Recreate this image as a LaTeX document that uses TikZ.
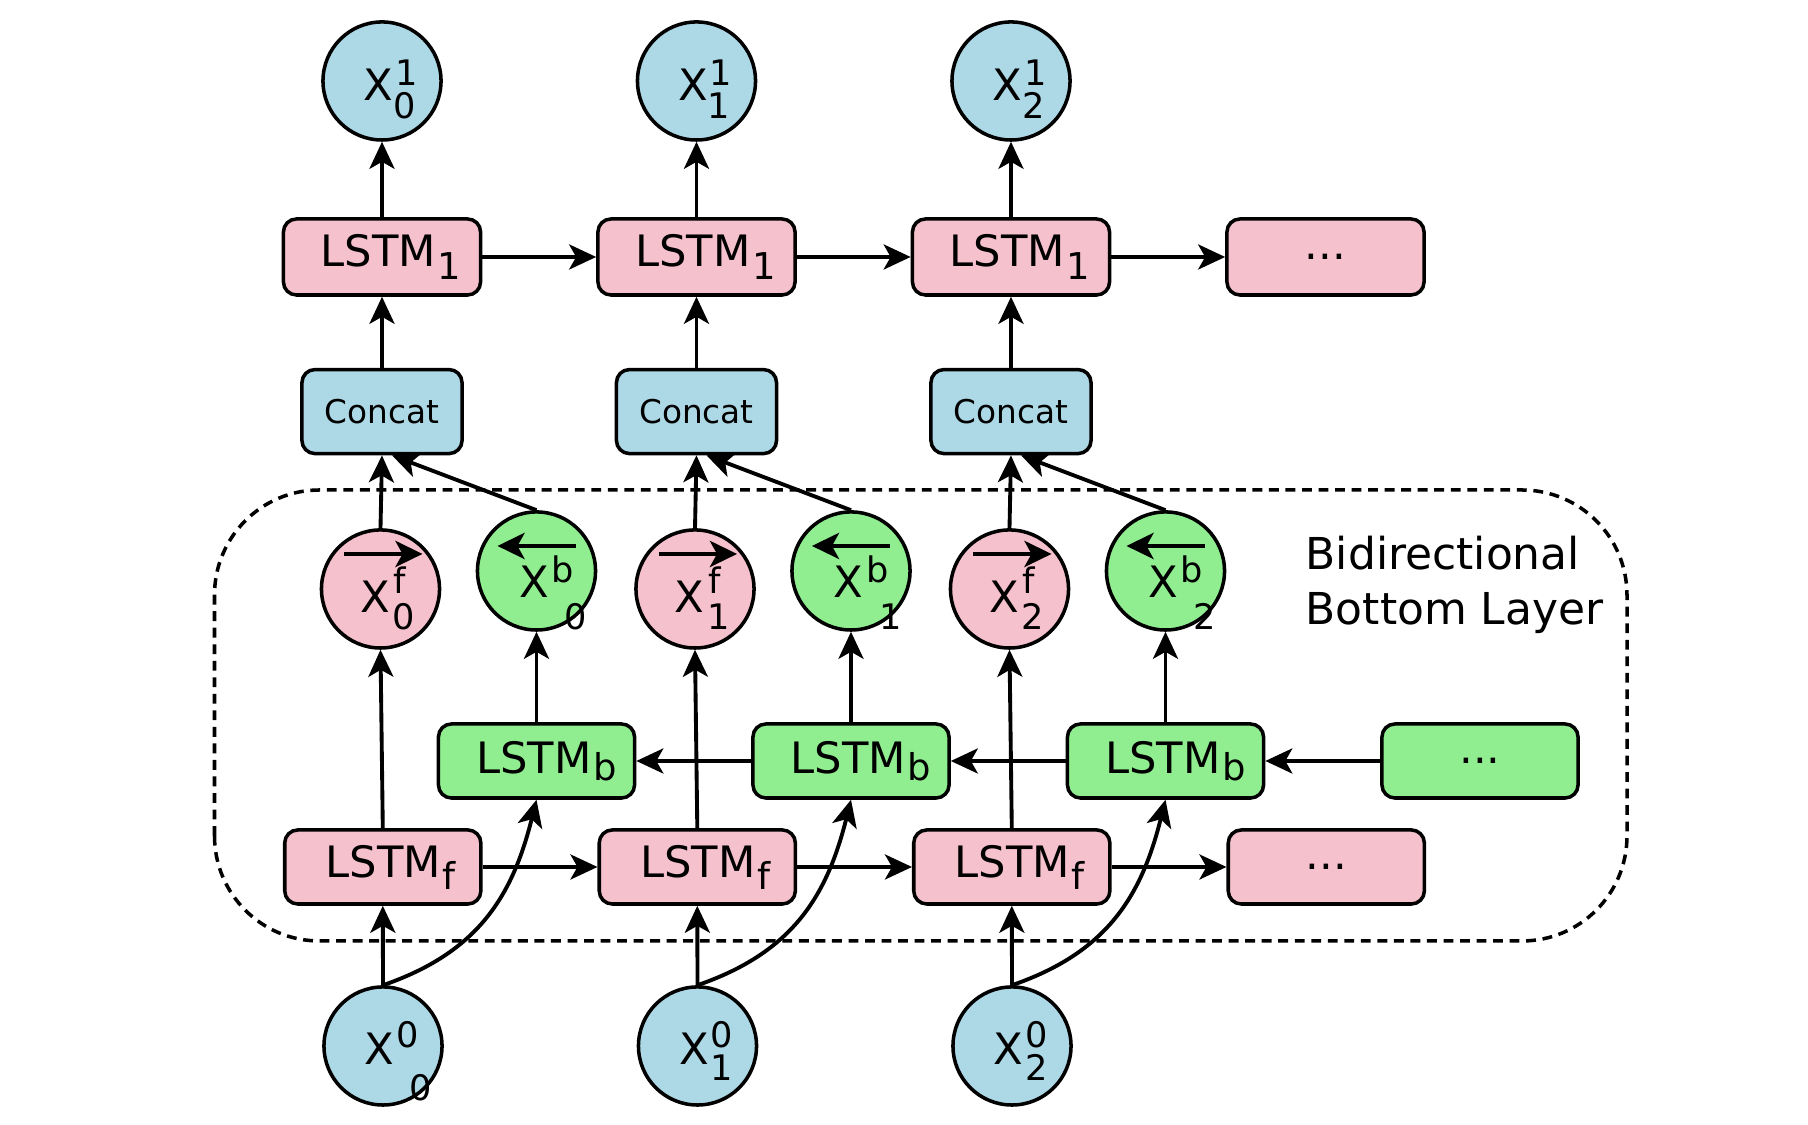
\documentclass[tikz,border=0pt]{standalone}
\usepackage{fontspec}
\setmainfont{DejaVu Sans}
\usetikzlibrary{arrows.meta}
\definecolor{cblue}{HTML}{ADD8E6}
\definecolor{cpink}{HTML}{F5C1CD}
\definecolor{cgreen}{HTML}{90EE90}
\newcommand\scr{\fontsize{10}{10}\selectfont}
\newcommand\mainf{\fontsize{12.3}{14}\selectfont}
% X with superscript and subscript: #1 sup kern, #2 sup raise, #3 sup, #4 sub kern, #5 sub raise, #6 sub
\newcommand\XL[6]{X\rlap{\kern#1\raisebox{#2}{\scr #3}}\kern#4\raisebox{#5}{\scr #6}}
\newcommand\LS[3]{\hspace*{#1}LSTM\kern0.02cm\raisebox{#2}{\fontsize{10.5}{10.5}\selectfont #3}}
\begin{document}
\begin{tikzpicture}[x=0.01cm,y=0.01cm,
  box/.style={draw, line width=1pt, rounded corners=0.13cm, minimum width=1.97cm,
    minimum height=0.76cm, inner sep=0pt, font=\mainf},
  lbox/.style={box, minimum width=1.96cm, minimum height=0.74cm},
  concat/.style={box, fill=cblue, minimum width=1.60cm, minimum height=0.84cm,
    font=\fontsize{9.3}{11}\selectfont},
  circ/.style={circle, draw, line width=1pt, minimum size=1.18cm, inner sep=0pt},
  lab/.style={anchor=base west, inner sep=0pt, font=\mainf},
  conn/.style={-{Stealth[length=0.27cm,width=0.25cm,inset=0.07cm]}, line width=1.1pt},
  over/.style={-{Stealth[length=0.27cm,width=0.26cm,inset=0.07cm]}, line width=1.3pt},
  region/.style={draw, line width=1pt, dash pattern=on 2.8pt off 1.9pt, rounded corners=1.05cm}
]
\useasboundingbox (0,0) rectangle (1808,1125);

% dashed region
\draw[region] (214.5,184) rectangle (1627,635);
\node[anchor=west, align=left, inner sep=0pt, font=\fontsize{12.5}{15.65}\selectfont]
  (bidir) at (1305,540) {Bidirectional\\Bottom Layer};

% top outputs
\node[circ, fill=cblue] (x10) at (382,1044) {};
\node[circ, fill=cblue] (x11) at (696.5,1044) {};
\node[circ, fill=cblue] (x12) at (1011,1044) {};
\node[lab] (x10t) at ([xshift=-0.19cm,yshift=-0.20cm]x10.center) {\XL{0.02cm}{0.155cm}{1}{0cm}{-0.18cm}{0}};
\node[lab] (x11t) at ([xshift=-0.19cm,yshift=-0.20cm]x11.center) {\XL{0.02cm}{0.155cm}{1}{0cm}{-0.18cm}{1}};
\node[lab] (x12t) at ([xshift=-0.19cm,yshift=-0.20cm]x12.center) {\XL{0.02cm}{0.155cm}{1}{0cm}{-0.18cm}{2}};

% LSTM_1 row
\node[box, fill=cpink] (l10) at (382,868) {\LS{0.18cm}{-0.13cm}{1}};
\node[box, fill=cpink] (l11) at (696.5,868) {\LS{0.18cm}{-0.13cm}{1}};
\node[box, fill=cpink] (l12) at (1011,868) {\LS{0.18cm}{-0.13cm}{1}};
\node[box, fill=cpink] (l1d) at (1325.5,868) {...};

% Concat row
\node[concat] (c0) at (382,713.4) {Concat};
\node[concat] (c1) at (696.5,713.4) {Concat};
\node[concat] (c2) at (1011,713.4) {Concat};

% forward outputs
\node[circ, fill=cpink] (xf0) at (380.5,536) {};
\node[circ, fill=cpink] (xf1) at (695,536) {};
\node[circ, fill=cpink] (xf2) at (1009.5,536) {};
% backward outputs
\node[circ, fill=cgreen] (xb0) at (536.5,554) {};
\node[circ, fill=cgreen] (xb1) at (851,554) {};
\node[circ, fill=cgreen] (xb2) at (1165.5,554) {};

\foreach \i in {0,1,2}{
  \node[lab] (xf\i t) at ([xshift=-0.21cm,yshift=-0.24cm]xf\i.center) {\XL{0.04cm}{0.19cm}{f}{0.03cm}{-0.16cm}{\i}};
  \draw[over] ([xshift=-0.36cm,yshift=0.35cm]xf\i.center) -- ([xshift=0.42cm,yshift=0.35cm]xf\i.center);
  \node[lab] (xb\i t) at ([xshift=-0.18cm,yshift=-0.27cm]xb\i.center) {\XL{0.03cm}{0.15cm}{b}{0.16cm}{-0.31cm}{\i}};
  \draw[over] ([xshift=0.39cm,yshift=0.25cm]xb\i.center) -- ([xshift=-0.39cm,yshift=0.25cm]xb\i.center);
}

% LSTM_b row
\node[lbox, fill=cgreen] (lb0) at (536.5,364) {\LS{0.20cm}{-0.07cm}{b}};
\node[lbox, fill=cgreen] (lb1) at (851,364) {\LS{0.20cm}{-0.07cm}{b}};
\node[lbox, fill=cgreen] (lb2) at (1165.5,364) {\LS{0.20cm}{-0.07cm}{b}};
\node[lbox, fill=cgreen] (lbd) at (1480,364) {...};

% LSTM_f row
\node[lbox, fill=cpink] (lf0) at (382.8,258) {\LS{0.16cm}{-0.12cm}{f}};
\node[lbox, fill=cpink] (lf1) at (697.3,258) {\LS{0.16cm}{-0.12cm}{f}};
\node[lbox, fill=cpink] (lf2) at (1011.8,258) {\LS{0.16cm}{-0.12cm}{f}};
\node[lbox, fill=cpink] (lfd) at (1326.3,258) {...};

% inputs
\node[circ, fill=cblue] (x00) at (383,79) {};
\node[circ, fill=cblue] (x01) at (697.5,79) {};
\node[circ, fill=cblue] (x02) at (1012,79) {};
\node[lab] (x00t) at ([xshift=-0.19cm,yshift=-0.19cm]x00.center) {\XL{0.02cm}{0.17cm}{0}{0.15cm}{-0.35cm}{0}};
\node[lab] (x01t) at ([xshift=-0.19cm,yshift=-0.19cm]x01.center) {\XL{0.02cm}{0.17cm}{0}{0.02cm}{-0.15cm}{1}};
\node[lab] (x02t) at ([xshift=-0.19cm,yshift=-0.19cm]x02.center) {\XL{0.02cm}{0.17cm}{0}{0.02cm}{-0.15cm}{2}};

% connectors
\foreach \i in {0,1,2}{
  \draw[conn] (l1\i.north) -- (x1\i.south);
  \draw[conn] (c\i.north) -- (l1\i.south);
  \draw[conn] (xf\i.north) -- (c\i.south);
  \draw[conn] (xb\i.north) -- ([xshift=0.10cm]c\i.south);
  \draw[conn] (lf\i.north) -- (xf\i.south);
  \draw[conn] (lb\i.north) -- (xb\i.south);
  \draw[conn] (x0\i.north) -- (lf\i.south);
  \draw[conn] (x0\i.north) .. controls +(19:1.0cm) and +(-104:1.0cm) .. (lb\i.south);
}
\draw[conn] (l10.east) -- (l11.west);
\draw[conn] (l11.east) -- (l12.west);
\draw[conn] (l12.east) -- (l1d.west);
\draw[conn] (lf0.east) -- (lf1.west);
\draw[conn] (lf1.east) -- (lf2.west);
\draw[conn] (lf2.east) -- (lfd.west);
\draw[conn] (lbd.west) -- (lb2.east);
\draw[conn] (lb2.west) -- (lb1.east);
\draw[conn] (lb1.west) -- (lb0.east);
\end{tikzpicture}
\end{document}
